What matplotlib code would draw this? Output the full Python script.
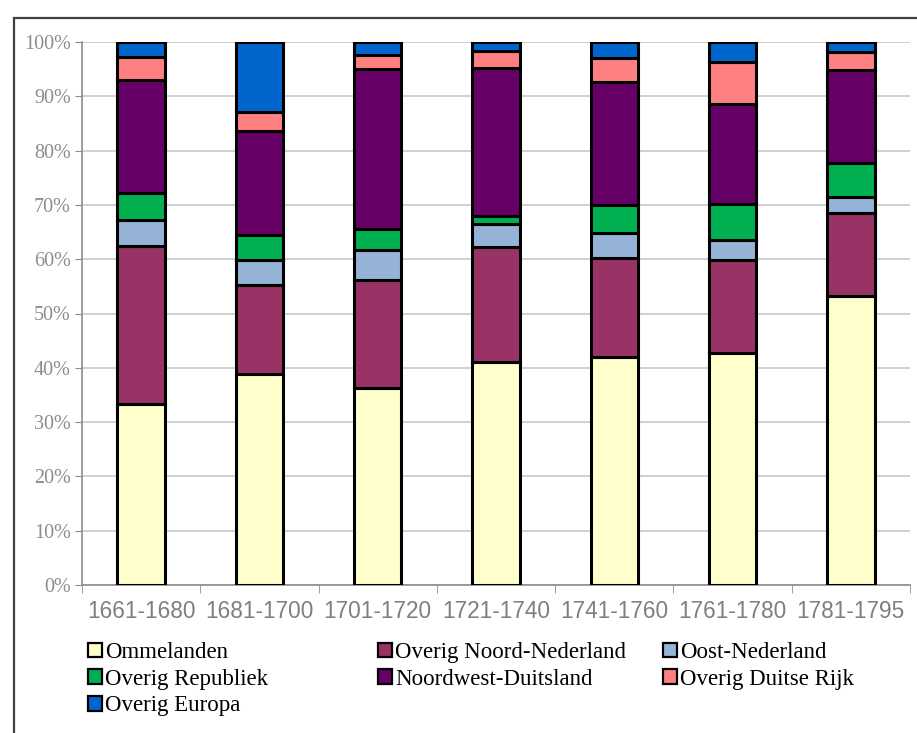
import numpy as np
import matplotlib.pyplot as plt
from matplotlib.patches import Rectangle

periods = ['1661-1680', '1681-1700', '1701-1720', '1721-1740',
           '1741-1760', '1761-1780', '1781-1795']

# shares in percent, bottom to top
ommelanden = [33.4, 38.8, 36.2, 41.1, 41.9, 42.8, 53.2]
noord_nl = [29.0, 16.4, 20.0, 21.2, 18.3, 17.0, 15.4]
oost_nl = [4.9, 4.6, 5.5, 4.2, 4.7, 3.8, 2.8]
republiek = [4.8, 4.6, 3.8, 1.4, 5.1, 6.5, 6.4]
nw_duitsland = [20.9, 19.3, 29.6, 27.4, 22.7, 18.4, 17.0]
duitse_rijk = [4.2, 3.4, 2.5, 3.1, 4.4, 7.8, 3.3]
europa = [2.8, 12.9, 2.4, 1.6, 2.9, 3.7, 1.9]

series = [
    ('Ommelanden', ommelanden, '#FFFFCC'),
    ('Overig Noord-Nederland', noord_nl, '#993366'),
    ('Oost-Nederland', oost_nl, '#95B3D7'),
    ('Overig Republiek', republiek, '#00B050'),
    ('Noordwest-Duitsland', nw_duitsland, '#660066'),
    ('Overig Duitse Rijk', duitse_rijk, '#FF8080'),
    ('Overig Europa', europa, '#0066CC'),
]

fig = plt.figure(figsize=(9.17, 7.33), dpi=100)
ax = fig.add_axes([82/917, 1 - 585/733, (910 - 82)/917, (585 - 42)/733])

x = np.arange(len(periods))
totals = np.zeros(len(periods))
for name, vals, col in series:
    vals = np.array(vals)
    ax.bar(x, vals, bottom=totals, width=0.4, color=col, edgecolor='black',
           linewidth=2.2, label=name, zorder=3)
    totals = totals + vals

ax.set_xlim(-0.5, len(periods) - 0.5)
ax.set_ylim(0, 100)
ax.set_yticks(np.arange(0, 101, 10))
ax.set_yticklabels([f'{v}%' for v in range(0, 101, 10)],
                   family='Liberation Serif', fontsize=14.5, color='#8C8C8C')
ax.yaxis.grid(True, color='#C8C8C8', linewidth=1.2, zorder=0)
ax.tick_params(axis='y', length=5, color='#8C8C8C', pad=3)

ax.set_xticks(x)
ax.set_xticklabels(periods, family='Liberation Sans', fontsize=16.3, color='#7F7F7F')
ax.set_xticks(np.arange(-0.5, len(periods)), minor=True)
ax.tick_params(axis='x', which='major', length=0, pad=11)
ax.tick_params(axis='x', which='minor', length=6, color='#8C8C8C')

for s in ['top', 'right']:
    ax.spines[s].set_visible(False)
for s in ['left', 'bottom']:
    ax.spines[s].set_color('#8C8C8C')
    ax.spines[s].set_linewidth(1.2)

# legend: three columns, row-wise order like the original
handles, labels = ax.get_legend_handles_labels()
col_x = [88/917, 378/917, 663/917]
for c in range(3):
    idx = list(range(c, len(handles), 3))
    leg = fig.legend([handles[i] for i in idx], [labels[i] for i in idx],
                     loc='upper left', bbox_to_anchor=(col_x[c], 1 - 642/733),
                     frameon=False, prop={'family': 'Liberation Serif', 'size': 16.5},
                     handlelength=0.6, handleheight=0.6, handletextpad=0.15,
                     labelspacing=0.25, borderaxespad=0, borderpad=0)
    for h in leg.legend_handles:
        h.set_linewidth(1.6)

# outer chart border
fig.add_artist(Rectangle((14/917, -0.2), 2, 1.2 - 18/733,
                         transform=fig.transFigure, fill=False,
                         edgecolor='#404040', linewidth=1.6))

fig.savefig('out.png', dpi=100)
